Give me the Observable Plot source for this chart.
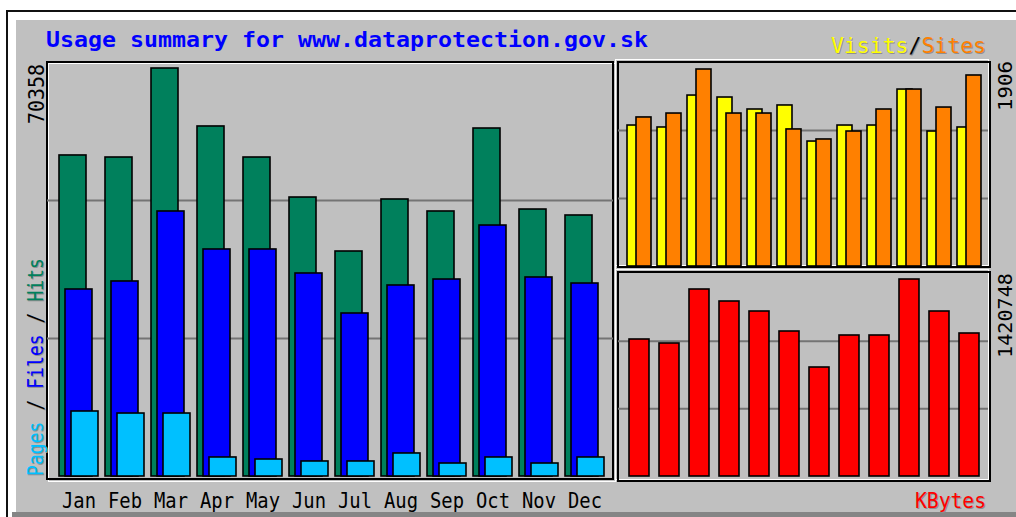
<!DOCTYPE html>
<html><head><meta charset="utf-8">
<script src="https://cdn.jsdelivr.net/npm/d3@7"></script>
<script src="https://cdn.jsdelivr.net/npm/@observablehq/plot@0.6"></script>
<style>
body{margin:0;background:#fff;}
#root{position:relative;width:1016px;height:517px;overflow:hidden;background:#fff;font-family:"DejaVu Sans Mono",monospace;}
.abs{position:absolute;box-sizing:border-box;}
</style></head><body><div id="root"></div>
<script>
// ---- data ----
const months = ["Jan","Feb","Mar","Apr","May","Jun","Jul","Aug","Sep","Oct","Nov","Dec"];
const hits   = [55360, 55010, 70358, 60360, 55010, 48110, 38800, 47770, 45700, 60010, 46040, 45010];
const files  = [32250, 33630, 45700, 39150, 39150, 35010, 28110, 32940, 33970, 43280, 34320, 33280];
const pages  = [11210, 10860, 10860, 3280, 2930, 2590, 2590, 3970, 2240, 3280, 2240, 3280];
const visits = [1364, 1345, 1654, 1635, 1519, 1558, 1209, 1364, 1364, 1712, 1306, 1345];
const sites  = [1442, 1480, 1906, 1480, 1480, 1326, 1229, 1306, 1519, 1712, 1538, 1848];
const kbytes = [988040, 959190, 1348630, 1262080, 1189970, 1045730, 786100, 1016880, 1016880, 1420748, 1189970, 1031310];
const title = "Usage summary for www.dataprotection.gov.sk";

const table = months.map((m, i) => ({month: m, hits: hits[i], files: files[i], pages: pages[i],
  visits: visits[i], sites: sites[i], kbytes: kbytes[i]}));

const C = {hits:"#00805c", files:"#0000ff", pages:"#00c0ff", visits:"#ffff00", sites:"#ff8000", kbytes:"#ff0000",
  bg:"#c0c0c0", grid:"#747474"};
const FONT = "DejaVu Sans Mono";
const root = document.getElementById("root");

function box(l, t, w, h, css) {
  const d = document.createElement("div");
  d.className = "abs";
  Object.assign(d.style, {left: l+"px", top: t+"px", width: w+"px", height: h+"px"}, css);
  root.appendChild(d);
  return d;
}
// background / outer frame
box(6, 10, 1010, 507, {borderTop: "2px solid #111", borderLeft: "2px solid #111", background: "#fff"});
box(16, 20, 1000, 492, {background: C.bg});
box(12, 512, 1004, 5, {background: "#858585"});
// panel frames (white highlight line and black line)
function panel(l, t, w, h, off) {
  box(l+off, t+off, w, h, {border: "1.5px solid #fff"});
  box(l, t, w, h, {border: "2px solid #000"});
}
panel(46, 61, 568, 419, 2);
panel(617, 61, 374, 207, -2);
panel(617, 271, 374, 211, -2);

function place(svg, l, t) {
  svg.style.position = "absolute";
  svg.style.left = l + "px";
  svg.style.top = t + "px";
  root.appendChild(svg);
}

// ---- left: hits / files / pages ----
const hMax = d3.max(hits);
const yTopL = hMax * 414 / 408;
const left = Plot.plot({
  width: 566, height: 455,
  marginTop: 0, marginBottom: 41, marginLeft: 0, marginRight: 0,
  style: {background: "transparent", overflow: "visible", fontFamily: FONT},
  x: {domain: months, range: [12, 545], paddingInner: 19/46, paddingOuter: 0, label: null},
  y: {domain: [0, yTopL], axis: null},
  marks: [
    Plot.gridY([yTopL/3, 2*yTopL/3], {stroke: C.grid, strokeOpacity: 1, strokeWidth: 2}),
    Plot.barY(table, {x: "month", y: "hits", fill: C.hits, stroke: "#000", strokeWidth: 1.6}),
    Plot.barY(table, {x: "month", y: "files", fill: C.files, stroke: "#000", strokeWidth: 1.6, dx: 6}),
    Plot.barY(table, {x: "month", y: "pages", fill: C.pages, stroke: "#000", strokeWidth: 1.6, dx: 12}),
    Plot.axisX({tickSize: 0, tickPadding: 17, fontSize: 21, dx: 6, fill: "#000", label: null})
  ]
});
left.querySelectorAll('[aria-label="x-axis tick label"] text').forEach(t => {
  t.setAttribute("textLength", 34); t.setAttribute("lengthAdjust", "spacingAndGlyphs");
});
place(left, 47, 62);

// ---- right top: visits / sites ----
const sMax = d3.max(sites);
const yTopV = sMax * 204 / 197;
const rtop = Plot.plot({
  width: 370, height: 204,
  marginTop: 0, marginBottom: 0, marginLeft: 0, marginRight: 0,
  style: {background: "transparent", overflow: "visible", fontFamily: FONT},
  x: {domain: months, range: [9, 354], paddingInner: 0.5, paddingOuter: 0, axis: null},
  y: {domain: [0, yTopV], axis: null},
  marks: [
    Plot.gridY([yTopV/3, 2*yTopV/3], {stroke: C.grid, strokeOpacity: 1, strokeWidth: 2}),
    Plot.barY(table, {x: "month", y: "visits", fill: C.visits, stroke: "#000", strokeWidth: 1.6}),
    Plot.barY(table, {x: "month", y: "sites", fill: C.sites, stroke: "#000", strokeWidth: 1.6, dx: 9})
  ]
});
place(rtop, 618, 62);

// ---- right bottom: kbytes ----
const kMax = d3.max(kbytes);
const yTopK = kMax * 203 / 197;
const rbot = Plot.plot({
  width: 370, height: 203,
  marginTop: 0, marginBottom: 0, marginLeft: 0, marginRight: 0,
  style: {background: "transparent", overflow: "visible", fontFamily: FONT},
  x: {domain: months, range: [11, 361], paddingInner: 1/3, paddingOuter: 0, axis: null},
  y: {domain: [0, yTopK], axis: null},
  marks: [
    Plot.gridY([yTopK/3, 2*yTopK/3], {stroke: C.grid, strokeOpacity: 1, strokeWidth: 2}),
    Plot.barY(table, {x: "month", y: "kbytes", fill: C.kbytes, stroke: "#000", strokeWidth: 1.6})
  ]
});
place(rbot, 618, 273);

// ---- text overlay ----
const NS = "http://www.w3.org/2000/svg";
const ov = document.createElementNS(NS, "svg");
ov.setAttribute("width", 1016); ov.setAttribute("height", 517);
Object.assign(ov.style, {position: "absolute", left: 0, top: 0, pointerEvents: "none"});
root.appendChild(ov);
function txt(parts, opts) {
  const t = document.createElementNS(NS, "text");
  t.setAttribute("font-family", FONT);
  t.setAttribute("font-size", opts.size);
  t.setAttribute("xml:space", "preserve");
  t.style.whiteSpace = "pre";
  if (opts.bold) t.setAttribute("font-weight", "bold");
  if (opts.anchor) t.setAttribute("text-anchor", opts.anchor);
  t.setAttribute("transform", opts.transform);
  if (opts.len) { t.setAttribute("textLength", opts.len); t.setAttribute("lengthAdjust", "spacingAndGlyphs"); }
  parts.forEach(([s, c]) => {
    const sp = document.createElementNS(NS, "tspan");
    sp.textContent = s; sp.setAttribute("fill", opts.color || c);
    t.appendChild(sp);
  });
  ov.appendChild(t);
}
txt([[title, "#0000ff"]], {size: 22, bold: true, transform: "translate(46,47)", len: 602});
const vs = [["Visits", C.visits], ["/", "#000"], ["Sites", C.sites]];
txt(vs, {size: 22, transform: "translate(832,54)", len: 155, color: "#8f8f8f"});
txt(vs, {size: 22, transform: "translate(831,53)", len: 155});
txt([["KBytes", C.kbytes]], {size: 21, transform: "translate(916,509)", len: 71, color: "#8f8f8f"});
txt([["KBytes", C.kbytes]], {size: 21, transform: "translate(915,508)", len: 71});
const pfh = [["Pages", C.pages], [" / ", "#000"], ["Files", C.files], [" / ", "#000"], ["Hits", C.hits]];
txt(pfh, {size: 21, transform: "translate(44,477) rotate(-90)", len: 218, color: "#8f8f8f"});
txt(pfh, {size: 21, transform: "translate(43,476) rotate(-90)", len: 218});
txt([[String(hMax), "#000"]], {size: 21, anchor: "end", transform: "translate(44,64) rotate(-90)", len: 60});
txt([[String(sMax), "#000"]], {size: 20, anchor: "end", transform: "translate(1012,61) rotate(-90)", len: 50});
txt([[String(kMax), "#000"]], {size: 20, anchor: "end", transform: "translate(1012,273) rotate(-90)", len: 85});
</script></body></html>
